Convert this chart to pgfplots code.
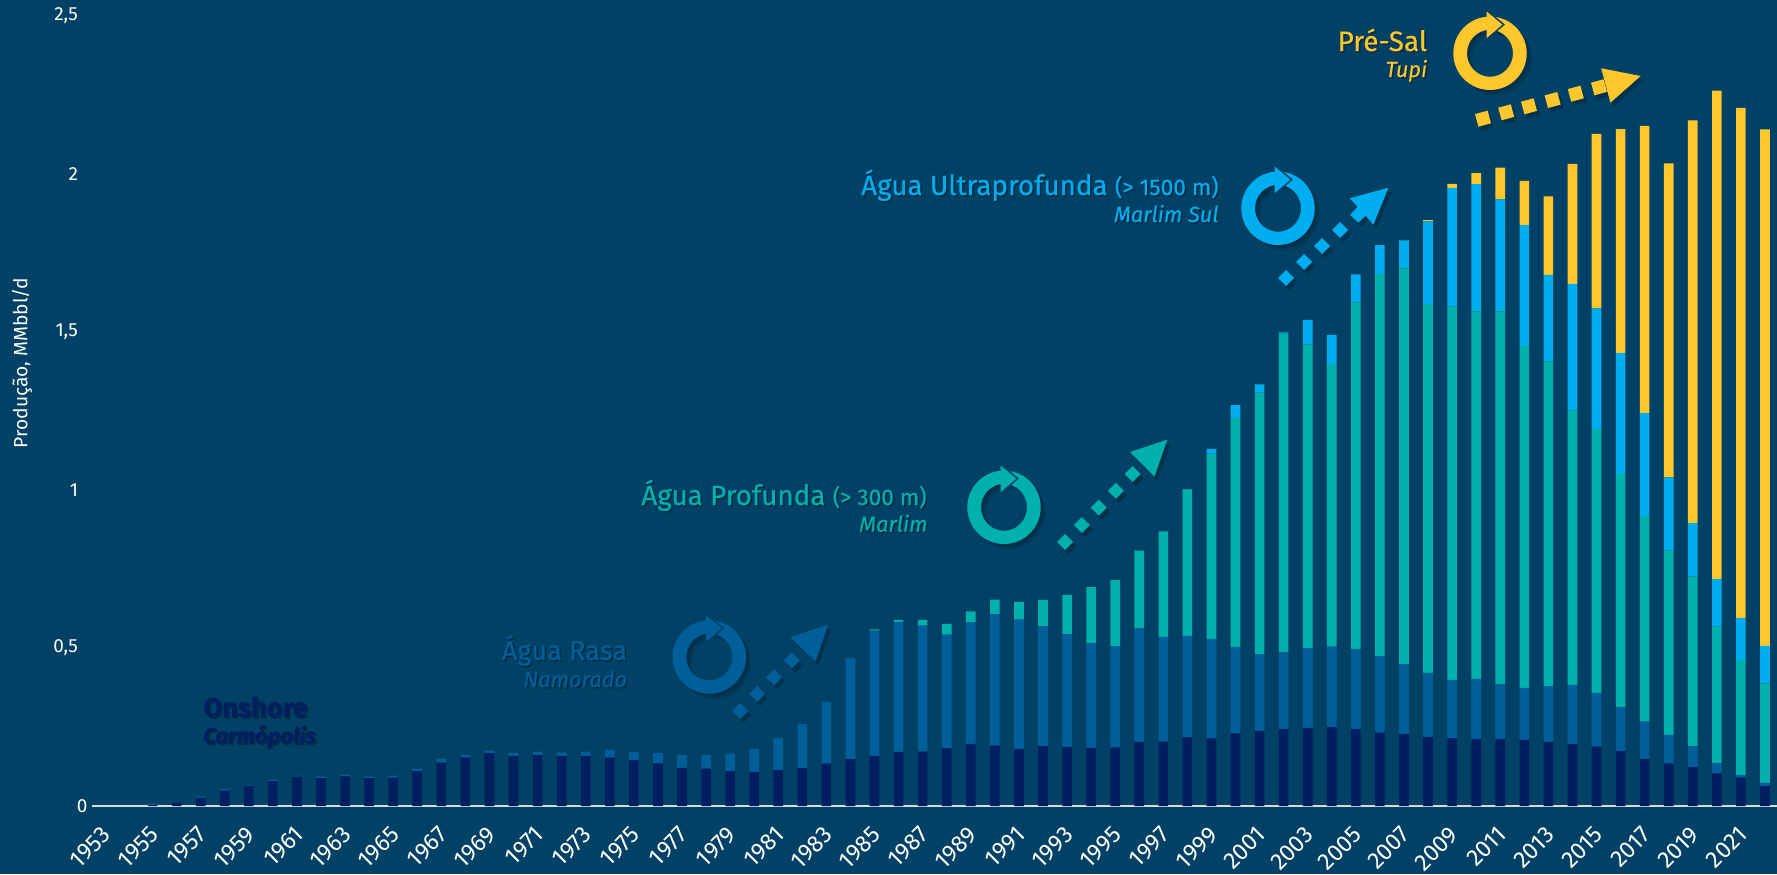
\documentclass[border=0pt]{standalone}
\usepackage{pgfplots}
\usepackage{pgfplotstable}
\usepackage{fontspec}
\setmainfont{Fira Sans}
\newfontfamily\headfont[FakeBold=0.35,ItalicFeatures={FakeBold=0.35}]{Fira Sans}
\pgfplotsset{compat=1.18}
\definecolor{bg}{HTML}{004165}
\definecolor{cOn}{HTML}{001F60}
\definecolor{cSh}{HTML}{005F99}
\definecolor{cDe}{HTML}{00B0AA}
\definecolor{cUl}{HTML}{00AEEF}
\definecolor{cPr}{HTML}{FFC72C}
\pgfplotstableread{
year on sh de ul pr
1953 0 0 0 0 0
1954 0 0 0 0 0
1955 .003 .003 0 0 0
1956 .011 0 0 0 0
1957 .026 .004 0 0 0
1958 .049 .005 0 0 0
1959 .064 .001 0 0 0
1960 .079 .004 0 0 0
1961 .093 .003 0 0 0
1962 .088 .005 0 0 0
1963 .094 .005 0 0 0
1964 .088 .005 0 0 0
1965 .090 .006 0 0 0
1966 .110 .007 0 0 0
1967 .137 .013 0 0 0
1968 .153 .009 0 0 0
1969 .167 .008 0 0 0
1970 .159 .008 0 0 0
1971 .161 .011 0 0 0
1972 .159 .010 0 0 0
1973 .158 .014 0 0 0
1974 .153 .024 0 0 0
1975 .146 .025 0 0 0
1976 .135 .033 0 0 0
1977 .121 .040 0 0 0
1978 .118 .043 0 0 0
1979 .110 .056 0 0 0
1980 .108 .073 0 0 0
1981 .114 .101 0 0 0
1982 .120 .140 0 0 0
1983 .134 .195 0 0 0
1984 .149 .319 0 0 0
1985 .158 .397 .004 0 0
1986 .171 .412 .006 0 0
1987 .172 .399 .018 0 0
1988 .182 .360 .034 0 0
1989 .197 .384 .035 0 0
1990 .191 .416 .046 0 0
1991 .181 .409 .056 0 0
1992 .190 .380 .082 0 0
1993 .187 .358 .123 0 0
1994 .184 .331 .178 0 0
1995 .185 .321 .209 0 0
1996 .203 .359 .246 0 0
1997 .204 .331 .334 0 0
1998 .217 .321 .464 .001 0
1999 .214 .314 .587 .015 0
2000 .230 .272 .726 .041 0
2001 .238 .243 .827 .026 0
2002 .243 .243 1.010 .003 0
2003 .247 .253 .961 .077 0
2004 .250 .254 .894 .093 0
2005 .243 .253 1.098 .088 0
2006 .232 .242 1.210 .091 0
2007 .228 .221 1.252 .089 0
2008 .219 .202 1.168 .261 .004
2009 .215 .184 1.182 .375 .013
2010 .212 .190 1.163 .403 .035
2011 .212 .174 1.179 .355 .100
2012 .209 .165 1.081 .384 .139
2013 .203 .176 1.028 .274 .248
2014 .196 .187 .869 .400 .380
2015 .188 .170 .835 .382 .552
2016 .174 .139 .737 .384 .708
2017 .149 .118 .651 .326 .908
2018 .134 .091 .584 .231 .994
2019 .123 .067 .537 .168 1.275
2020 .103 .033 .432 .150 1.546
2021 .090 .008 .364 .133 1.614
2022 .064 .009 .315 .119 1.634
}\prod
\newcommand{\fs}[1]{\fontsize{#1}{#1}\selectfont}
\newcommand{\stext}[5]{%
  \node[anchor=#3,inner sep=0pt,text=black,opacity=.3] at (#1+1.5,#2+1.5) {\headfont #5};
  \node[anchor=#3,inner sep=0pt,text=#4] at (#1,#2) {\headfont #5};}
\newcommand{\ringshape}[1]{\fill[#1,even odd rule] (0,0) ellipse [x radius=36.7,y radius=36.7] (0,0) ellipse [x radius=23,y radius=23.5];}
\newcommand{\ring}[3]{%
  \begin{scope}[shift={(#1,#2)}]
    \begin{scope}[shift={(5,5)}]\ringshape{black,opacity=.10}\end{scope}
    \begin{scope}[shift={(3,3)}]\ringshape{black,opacity=.15}\end{scope}
    \ringshape{#3}
    \draw[bg,line width=1.6pt,line join=miter] (-3.3,-41.7) -- (12.4,-28.7) -- (-3.3,-15.3);
    \fill[#3] (-3.3,-41.7) -- (12.4,-28.7) -- (-3.3,-15.3) -- cycle;
  \end{scope}}
\newcommand{\dia}[3]{%
  \fill[black,opacity=.22] (#1+3,#2+4) ++(8,0) -- ++(-8,-8) -- ++(-8,8) -- ++(8,8) -- cycle;
  \fill[#3] (#1,#2) ++(8,0) -- ++(-8,-8) -- ++(-8,8) -- ++(8,8) -- cycle;}
\newcommand{\sq}[3]{%
  \fill[black,opacity=.22] (#1+3,#2+4) ++(8,4.6) -- ++(-3.4,-12.6) -- ++(-12.6,3.4) -- ++(3.4,12.6) -- cycle;
  \fill[#3] (#1,#2) ++(8,4.6) -- ++(-3.4,-12.6) -- ++(-12.6,3.4) -- ++(3.4,12.6) -- cycle;}
\begin{document}
\begin{tikzpicture}
\useasboundingbox (0,0) rectangle (888.5pt,437pt);
\fill[bg] (0,0) rectangle (888.5pt,437pt);
\begin{axis}[
  at={(46.2pt,34pt)},anchor=south west,
  scale only axis,width=842.3pt,height=395pt,
  xmin=1952.5,xmax=2022.5,ymin=0,ymax=2.5,
  ybar stacked,bar width=0.4,
  axis lines=left,axis line style={-},
  y axis line style={draw=none},
  x axis line style={draw=white!85!black,line width=1pt},
  major tick length=0,
  xtick={1953,1955,...,2021},
  ytick={0,0.5,1,1.5,2,2.5},
  yticklabels={{0\kern-5.2pt},{0,5},{1},{1,5},{2},{2,5}},
  /pgf/number format/assume math mode=true,
  /pgf/number format/1000 sep={},
  x tick label style={rotate=45,anchor=north east,text=white,font=\fs{11.8},inner sep=0pt,xshift=-8pt,yshift=-5.2pt},
  y tick label style={anchor=east,text=white,font=\fs{9.5},inner sep=0pt,xshift=-7pt},
  tick label style={/pgf/number format/1000 sep={}},
  clip=false,
]
\addplot[fill=cOn,draw=none] table[x=year,y=on]{\prod};
\addplot[fill=cSh,draw=none] table[x=year,y=sh]{\prod};
\addplot[fill=cDe,draw=none] table[x=year,y=de]{\prod};
\addplot[fill=cUl,draw=none] table[x=year,y=ul]{\prod};
\addplot[fill=cPr,draw=none] table[x=year,y=pr]{\prod};
\end{axis}
\begin{scope}[x=.5pt,y=-.5pt,yshift=437pt]
\node[rotate=90,text=white,inner sep=0pt] at (22,363) {\fs{9.6}Produção, MMbbl/d};
% Onshore
\stext{203}{717}{base west}{cOn}{\fs{13.6}\bfseries Onshore}
\stext{203}{743.3}{base west}{cOn}{\fs{11}\bfseries\itshape Carmópolis}
% Shallow
\stext{627.5}{660}{base east}{cSh}{\fs{13.6}Água Rasa}
\stext{627.5}{687}{base east}{cSh}{\fs{10.9}\itshape Namorado}
\ring{709.3}{657}{cSh}
\dia{740}{711}{cSh}\dia{757}{694}{cSh}\dia{774}{677.3}{cSh}\dia{791.7}{660.7}{cSh}
\fill[black,opacity=.22] (831,628.7) -- (793.2,641.3) -- (818.5,665.7) -- cycle;
\fill[cSh] (828,624.7) -- (790.2,637.3) -- (815.5,661.7) -- cycle;
% Deep
\stext{927}{505}{base east}{cDe}{\fs{13.9}Água Profunda {\fs{11.3}(> 300 m)}}
\stext{928}{531.7}{base east}{cDe}{\fs{10.9}\itshape Marlim}
\ring{1004}{507.3}{cDe}
\dia{1065}{542}{cDe}\dia{1081.8}{525}{cDe}\dia{1098.7}{507.7}{cDe}\dia{1115.9}{490.7}{cDe}\dia{1132.7}{474}{cDe}
\fill[black,opacity=.22] (1170.2,443.7) -- (1133,456) -- (1157.5,480.7) -- cycle;
\fill[cDe] (1167.2,439.7) -- (1130,452) -- (1154.5,476.7) -- cycle;
% Ultra
\stext{1219}{195}{base east}{cUl}{\fs{13.9}Água Ultraprofunda {\fs{11.3}(> 1500 m)}}
\stext{1219}{222}{base east}{cUl}{\fs{10.9}\itshape Marlim Sul}
\ring{1278}{208.3}{cUl}
\dia{1286.1}{278}{cUl}\dia{1304.2}{262}{cUl}\dia{1322.2}{246}{cUl}\dia{1340.2}{230}{cUl}
\fill[black,opacity=.22] (1391.4,191.7) -- (1352.8,202.3) -- (1360.5,210.7) -- (1353.2,219) -- (1361.3,226.7) -- (1368.6,219.7) -- (1376.4,228.7) -- cycle;
\fill[cUl] (1388.4,187.7) -- (1349.8,198.3) -- (1357.5,206.7) -- (1350.2,215) -- (1358.3,222.7) -- (1365.6,215.7) -- (1373.4,224.7) -- cycle;
% Pre-sal
\stext{1427.5}{51}{base east}{cPr}{\fs{14}Pré-Sal}
\stext{1427.5}{77}{base east}{cPr}{\fs{10.9}\itshape Tupi}
\ring{1490}{53.3}{cPr}
\sq{1483}{118.7}{cPr}\sq{1506.2}{112.3}{cPr}\sq{1529}{106.3}{cPr}\sq{1552.6}{100}{cPr}\sq{1575.8}{93.7}{cPr}\sq{1599}{87.3}{cPr}
\fill[black,opacity=.22] (1643.6,80) -- (1604.2,72.3) -- (1613.4,106.7) -- cycle;
\fill[cPr] (1640.6,76) -- (1601.2,68.3) -- (1610.4,102.7) -- cycle;
\end{scope}
\end{tikzpicture}
\end{document}
